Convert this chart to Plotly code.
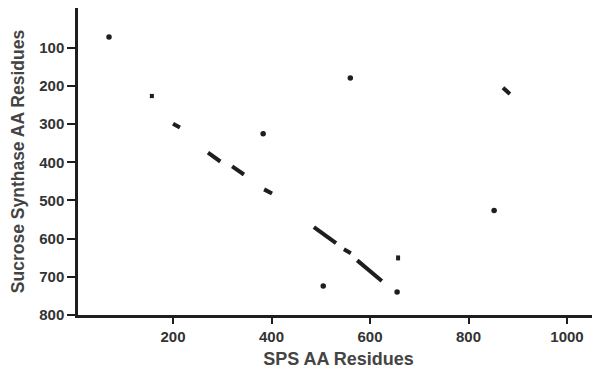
import plotly.graph_objects as go

# Diagonal match segments (SPS residue -> Sucrose synthase residue)
seg_x0 = [200, 271, 320, 385, 870, 486, 547, 574, 157, 657]
seg_x1 = [214, 296, 344, 401, 884, 531, 561, 624, 157, 657]
seg_y0 = [299, 375, 411, 471, 205, 570, 628, 657, 221, 644]
seg_y1 = [309, 398, 432, 482, 221, 612, 638, 711, 232, 657]

# Isolated dots
dot_x = [70, 383, 560, 505, 655, 852]
dot_y = [72, 325, 179, 724, 740, 526]

x_ticks = [200, 400, 600, 800, 1000]
y_ticks = [100, 200, 300, 400, 500, 600, 700, 800]

lx, ly = [], []
for a, b, c, d in zip(seg_x0, seg_x1, seg_y0, seg_y1):
    lx += [a, b, None]
    ly += [c, d, None]

ink = "#1e1e1e"
fig = go.Figure()
fig.add_trace(go.Scatter(x=lx, y=ly, mode="lines",
                         line=dict(color=ink, width=4), showlegend=False))
fig.add_trace(go.Scatter(x=dot_x, y=dot_y, mode="markers",
                         marker=dict(color=ink, size=5.5), showlegend=False))

font = "Liberation Sans, Arial, sans-serif"
fig.update_layout(
    width=592, height=363,
    margin=dict(l=70, r=1, t=0, b=56),
    plot_bgcolor="white", paper_bgcolor="white",
    font=dict(family=font, color="#333333"),
    xaxis=dict(range=[7, 1065], tickvals=x_ticks, ticks="outside", ticklen=6,
               tickwidth=2, tickcolor=ink, showline=True, linewidth=2.5,
               linecolor=ink, mirror=True, showgrid=False, zeroline=False,
               automargin=False,
               tickfont=dict(size=15, family=font, weight="bold"),
               title=dict(text="SPS AA Residues", standoff=9,
                          font=dict(size=18, family=font, weight="bold", color="#444444"))),
    yaxis=dict(range=[800, -4], tickvals=y_ticks, ticks="outside", ticklen=8,
               tickwidth=2, tickcolor=ink, showline=True, linewidth=2.5,
               linecolor=ink, showgrid=False, zeroline=False,
               automargin=False,
               tickfont=dict(size=15, family=font, weight="bold"),
               title=dict(text="Sucrose Synthase AA Residues", standoff=17,
                          font=dict(size=17.5, family=font, weight="bold", color="#444444"))),
)
fig.add_shape(type="line", xref="paper", yref="paper", x0=1, x1=1, y0=0, y1=1,
              line=dict(color="#cccccc", width=1))
fig.write_html("out.html")
